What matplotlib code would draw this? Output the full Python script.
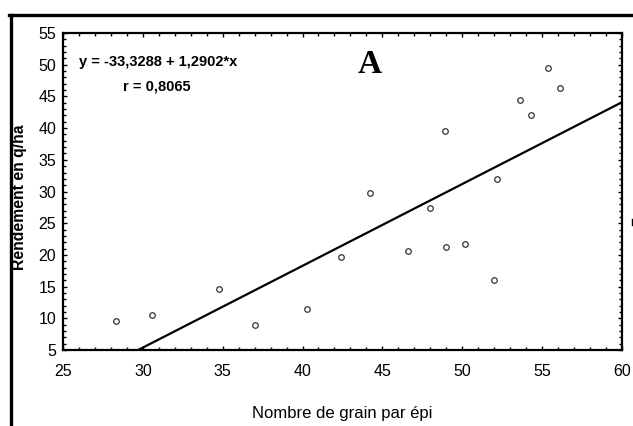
import matplotlib.pyplot as plt
from matplotlib.ticker import MultipleLocator
from matplotlib.lines import Line2D

# grains per ear vs yield (q/ha)
grains = [28.3, 30.6, 34.8, 37.0, 40.3, 42.4, 44.2, 46.6, 48.0, 48.9,
          49.0, 50.2, 52.0, 52.2, 53.6, 54.3, 55.4, 56.1]
rendement = [9.6, 10.5, 14.6, 9.0, 11.4, 19.7, 29.8, 20.6, 27.4, 39.6,
             21.2, 21.8, 16.1, 31.9, 44.4, 42.0, 49.5, 46.4]

a = -33.3288
b = 1.2902
x_fit = [25, 60]
y_fit = [a + b * v for v in x_fit]

plt.rcParams['font.family'] = ['Liberation Sans', 'DejaVu Sans']

fig = plt.figure(figsize=(6.33, 4.26), dpi=100)
ax = fig.add_axes([0.0995, 0.1784, 0.883, 0.744])

ax.plot(x_fit, y_fit, color='black', lw=1.6)
ax.plot(grains, rendement, 'o', ms=4.0, mfc='white', mec='#333333', mew=0.9, ls='none')

ax.set_xlim(25, 60)
ax.set_ylim(5, 55)
ax.xaxis.set_major_locator(MultipleLocator(5))
ax.xaxis.set_minor_locator(MultipleLocator(1))
ax.yaxis.set_major_locator(MultipleLocator(5))
ax.yaxis.set_minor_locator(MultipleLocator(1))
ax.tick_params(which='both', direction='in', top=True, right=True, width=1, color='black')
ax.tick_params(which='major', length=3)
ax.tick_params(which='minor', length=2.2)
ax.tick_params(axis='x', which='major', labelsize=11.5, pad=10)
ax.tick_params(axis='y', which='major', labelsize=11.5, pad=5)
for s in ax.spines.values():
    s.set_linewidth(1.6)

ax.text(0.0286, 0.896, 'y = -33,3288 + 1,2902*x', transform=ax.transAxes,
        fontsize=10.5, fontweight='bold', va='baseline')
ax.text(0.107, 0.820, 'r = 0,8065', transform=ax.transAxes,
        fontsize=10.5, fontweight='bold', va='baseline')
ax.text(43.47, 48.7, 'A', fontsize=24, fontweight='bold', va='baseline',
        family=['Liberation Serif', 'DejaVu Serif'])

fig.text(20 / 633, 1 - 197 / 426, 'Rendement en q/ha', rotation=90, fontsize=11.3,
         fontweight='bold', ha='center', va='center')
fig.text(342 / 633, 1 - 418 / 426, 'Nombre de grain par épi', fontsize=12,
         ha='center', va='baseline')

# outer frame lines (top and left) and the cut-off mark at the right edge
fig.add_artist(Line2D([9 / 633, 1], [1 - 14.5 / 426] * 2, color='black', lw=2.4))
fig.add_artist(Line2D([10.5 / 633] * 2, [0, 1 - 14.5 / 426], color='black', lw=2.4))
fig.add_artist(Line2D([632 / 633] * 2, [1 - 219 / 426, 1 - 225 / 426], color='black', lw=1))

fig.savefig('out.png', dpi=100)
